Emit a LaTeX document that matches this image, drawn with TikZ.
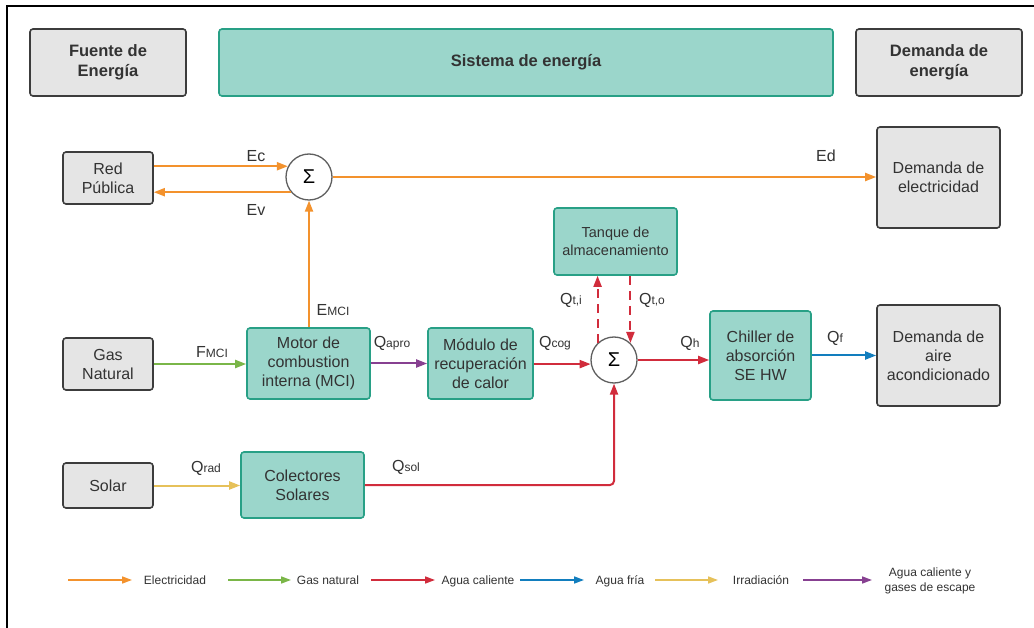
\documentclass[tikz,border=0pt]{standalone}
\usepackage{fontspec}
\setmainfont{Liberation Sans}
\usetikzlibrary{arrows.meta}

\definecolor{txt}{RGB}{51,51,51}
\definecolor{grayfill}{RGB}{229,229,229}
\definecolor{grayline}{RGB}{60,60,60}
\definecolor{tealfill}{RGB}{155,214,203}
\definecolor{tealline}{RGB}{40,160,134}
\definecolor{sumline}{RGB}{95,95,95}
\definecolor{corange}{RGB}{243,146,45}
\definecolor{cgreen}{RGB}{122,182,72}
\definecolor{cred}{RGB}{209,44,60}
\definecolor{cblue}{RGB}{18,126,190}
\definecolor{cyellow}{RGB}{230,193,90}
\definecolor{cpurple}{RGB}{135,64,145}

\newcommand{\qsub}[2]{#1{\fontsize{12}{14}\selectfont #2}}

\tikzset{
  basebox/.style={rounded corners=3pt, align=center, text=txt, inner sep=0pt,
    line width=1.6pt, font=\fontsize{16}{19}\selectfont},
  graybox/.style={basebox, draw=grayline, fill=grayfill},
  tealbox/.style={basebox, draw=tealline, fill=tealfill},
  headbox/.style={font=\fontsize{16.5}{20}\selectfont\bfseries},
  sumnode/.style={circle, draw=sumline, fill=white, line width=1.3pt,
    minimum size=46pt, inner sep=0pt, text=black, font=\fontsize{20}{20}\selectfont},
  flow/.style={line width=2pt, -{Triangle[length=11pt,width=8pt]}},
  elec/.style={flow, draw=corange},
  gasf/.style={flow, draw=cgreen},
  hotw/.style={flow, draw=cred},
  coldw/.style={flow, draw=cblue},
  irrad/.style={flow, draw=cyellow},
  exhaust/.style={flow, draw=cpurple},
  storeflow/.style={hotw, dash pattern=on 9pt off 6pt},
  flowlabel/.style={text=txt, inner sep=0pt, font=\fontsize{16}{19}\selectfont},
  legarrow/.style={line width=1.6pt, -{Triangle[length=10pt,width=7pt]}},
  legtext/.style={text=txt, inner sep=0pt, align=center, font=\fontsize{12}{15}\selectfont}
}

\begin{document}
\begin{tikzpicture}[x=1pt,y=-1pt]
\useasboundingbox (0,0) rectangle (1034,628);
\fill[white] (0,0) rectangle (1034,628);
% frame
\draw[line width=2pt, black] (7,628) -- (7,6) -- (1034,6);

% column headers
\node[graybox, headbox, minimum width=156pt, minimum height=67pt] (hsrc) at (108,62.5) {Fuente de\\Energía};
\node[tealbox, headbox, minimum width=614pt, minimum height=67pt] (hsys) at (526,62.5) {Sistema de energía};
\node[graybox, headbox, minimum width=166pt, minimum height=67pt] (hdem) at (939,62.5) {Demanda de\\energía};

% sources
\node[graybox, minimum width=90pt, minimum height=52pt] (red) at (108,178) {Red\\Pública};
\node[graybox, minimum width=90pt, minimum height=52pt] (gas) at (108,364) {Gas\\Natural};
\node[graybox, minimum width=90pt, minimum height=45pt] (solar) at (108,485.5) {Solar};

% energy system
\node[tealbox, minimum width=123pt, minimum height=71pt] (motor) at (308.5,363.5) {Motor de\\combustion\\interna (MCI)};
\node[tealbox, minimum width=105pt, minimum height=71pt] (modulo) at (480.5,363.5) {Módulo de\\recuperación\\de calor};
\node[tealbox, minimum width=123pt, minimum height=66pt] (colect) at (302.5,485) {Colectores\\Solares};
\node[tealbox, minimum width=123pt, minimum height=67pt, font=\fontsize{14.5}{18}\selectfont] (tanque) at (615.5,241.5) {Tanque de\\almacenamiento};
\node[tealbox, minimum width=101pt, minimum height=89pt] (chiller) at (760.5,355.5) {Chiller de\\absorción\\SE HW};
\node[sumnode] (sum1) at (309,177) {Σ};
\node[sumnode] (sum2) at (614,360) {Σ};

% demands
\node[graybox, minimum width=123pt, minimum height=101pt] (demel) at (938.5,177.5) {Demanda de\\electricidad};
\node[graybox, minimum width=123pt, minimum height=101pt] (demac) at (938.5,355.5) {Demanda de\\aire\\acondicionado};

% electricity
\draw[elec] (red.east |- sum1.153) -- (sum1.153);
\draw[elec] (sum1.220) -- (red.east |- sum1.220);
\draw[elec] (motor.north -| sum1) -- (sum1.south);
\draw[elec] (sum1.east) -- (sum1.east -| demel.west);

% fuel, exhaust heat and hot water
\draw[gasf] (gas.east) -- (gas.east -| motor.west);
\draw[exhaust] (motor.east) -- (motor.east -| modulo.west);
\draw[hotw] (modulo.east |- sum2.190) -- (sum2.190);
\draw[hotw] (sum2.east) -- (sum2.east -| chiller.west);
\draw[hotw, rounded corners=4pt] (colect.east) -| (sum2.south);
\draw[irrad] (solar.east) -- (solar.east -| colect.west);
\draw[storeflow] (sum2.134) -- (sum2.134 |- tanque.south);
\draw[storeflow] (sum2.46 |- tanque.south) -- (sum2.46);

% chilled water
\draw[coldw] (chiller.east) -- (chiller.east -| demac.west);

% flow labels
\node[flowlabel] (lEc) at (256,156) {Ec};
\node[flowlabel] (lEv) at (256,210) {Ev};
\node[flowlabel] (lEmci) at (333,310) {\qsub{E}{MCI}};
\node[flowlabel] (lEd) at (826,156) {Ed};
\node[flowlabel] (lFmci) at (212,352) {\qsub{F}{MCI}};
\node[flowlabel] (lQapro) at (392,343) {\qsub{Q}{apro}};
\node[flowlabel] (lQcog) at (555,343) {\qsub{Q}{cog}};
\node[flowlabel] (lQti) at (571,300) {\qsub{Q}{t,i}};
\node[flowlabel] (lQto) at (652,300) {\qsub{Q}{t,o}};
\node[flowlabel] (lQh) at (690,343) {\qsub{Q}{h}};
\node[flowlabel] (lQf) at (835,338) {\qsub{Q}{f}};
\node[flowlabel] (lQrad) at (206,468) {\qsub{Q}{rad}};
\node[flowlabel] (lQsol) at (406,467) {\qsub{Q}{sol}};

% legend
\coordinate (k1a) at (68,580);  \coordinate (k1b) at (132,580);
\coordinate (k2a) at (228,580); \coordinate (k2b) at (291,580);
\coordinate (k3a) at (371,580); \coordinate (k3b) at (435,580);
\coordinate (k4a) at (520,580); \coordinate (k4b) at (584,580);
\coordinate (k5a) at (655,580); \coordinate (k5b) at (718,580);
\coordinate (k6a) at (803,580); \coordinate (k6b) at (872,580);
\draw[legarrow, draw=corange] (k1a) -- (k1b);
\draw[legarrow, draw=cgreen] (k2a) -- (k2b);
\draw[legarrow, draw=cred] (k3a) -- (k3b);
\draw[legarrow, draw=cblue] (k4a) -- (k4b);
\draw[legarrow, draw=cyellow] (k5a) -- (k5b);
\draw[legarrow, draw=cpurple] (k6a) -- (k6b);
\node[legtext, anchor=base] (t1) at (175,584.5) {Electricidad};
\node[legtext, anchor=base] (t2) at (328,584.5) {Gas natural};
\node[legtext, anchor=base] (t3) at (478,584.5) {Agua caliente};
\node[legtext, anchor=base] (t4) at (620,584.5) {Agua fría};
\node[legtext, anchor=base] (t5) at (761,584.5) {Irradiación};
\node[legtext] (t6) at (930,580.5) {Agua caliente y\\gases de escape};
\end{tikzpicture}
\end{document}
